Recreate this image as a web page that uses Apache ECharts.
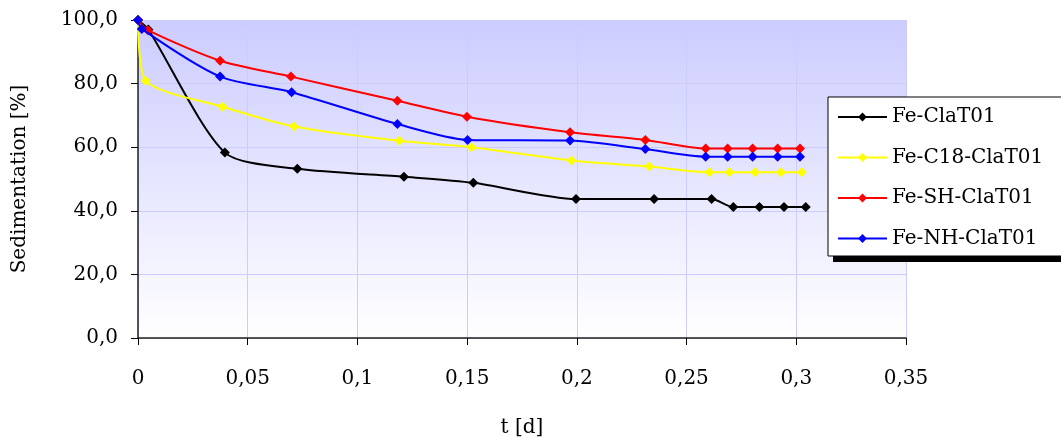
<!DOCTYPE html>
<html>
<head>
<meta charset="utf-8">
<script src="https://cdn.jsdelivr.net/npm/echarts@6/dist/echarts.min.js"></script>
<style>
html,body{margin:0;padding:0;background:#fff;}
#chart{width:1061px;height:437px;}
</style>
</head>
<body>
<div id="chart"></div>
<script>
// ---- data ----
const xTicks = [0, 0.05, 0.1, 0.15, 0.2, 0.25, 0.3, 0.35];
const yTicks = [0, 20, 40, 60, 80, 100];

const names = ['Fe-ClaT01', 'Fe-C18-ClaT01', 'Fe-SH-ClaT01', 'Fe-NH-ClaT01'];

const blackT  = [0, 0.0047, 0.0396, 0.0726, 0.1212, 0.1528, 0.1996, 0.2352, 0.2614, 0.2713, 0.2832, 0.2944, 0.3043];
const blackV  = [100, 97.0, 58.3, 53.2, 50.7, 48.8, 43.7, 43.7, 43.7, 41.2, 41.2, 41.2, 41.2];

const yellowT = [0, 0.0035, 0.0386, 0.0711, 0.1191, 0.1520, 0.1976, 0.2330, 0.2604, 0.2695, 0.2812, 0.2930, 0.3025];
const yellowV = [100, 80.9, 72.7, 66.5, 62.0, 60.0, 55.8, 53.9, 52.1, 52.1, 52.1, 52.1, 52.1];

const redT    = [0, 0.0045, 0.0374, 0.0697, 0.1182, 0.1499, 0.1969, 0.2312, 0.2587, 0.2687, 0.2801, 0.2915, 0.3017];
const redV    = [100, 96.8, 87.2, 82.2, 74.6, 69.6, 64.7, 62.3, 59.6, 59.6, 59.6, 59.6, 59.6];

const blueT   = [0, 0.0017, 0.0374, 0.0700, 0.1182, 0.1502, 0.1969, 0.2312, 0.2587, 0.2687, 0.2801, 0.2915, 0.3017];
const blueV   = [100, 97.2, 82.2, 77.3, 67.3, 62.3, 62.1, 59.4, 57.0, 57.0, 57.0, 57.0, 57.0];

const colors = ['#000000', '#ffff00', '#ff0000', '#0000ff'];

// ---- build ----
function pairs(t, v) { return t.map((x, i) => [x, v[i]]); }
const seriesData = [pairs(blackT, blackV), pairs(yellowT, yellowV), pairs(redT, redV), pairs(blueT, blueV)];

const FONT = 'DejaVu Serif';
const FS = 20;
const chart = echarts.init(document.getElementById('chart'), null, {renderer: 'canvas'});

const option = {
  animation: false,
  textStyle: {fontFamily: FONT},
  grid: {
    left: 138, right: 155, top: 20, bottom: 99,
    outerBoundsMode: 'none',
    containLabel: false,
    show: true,
    borderWidth: 0,
    backgroundColor: new echarts.graphic.LinearGradient(0, 0, 0, 1, [
      {offset: 0, color: '#ccccff'},
      {offset: 1, color: '#ffffff'}
    ])
  },
  xAxis: {
    type: 'value',
    min: xTicks[0], max: xTicks[xTicks.length - 1], interval: 0.05,
    name: 't [d]', nameLocation: 'middle', nameGap: 80,
    nameTextStyle: {fontFamily: FONT, fontSize: FS, color: '#000'},
    axisLine: {show: true, onZero: false, lineStyle: {color: '#222', width: 1.5}},
    axisTick: {show: true, inside: false, length: 7, lineStyle: {color: '#000'}},
    axisLabel: {
      fontFamily: FONT, fontSize: FS, color: '#000', margin: 31,
      formatter: v => String(Math.round(v * 100) / 100).replace('.', ',')
    },
    splitLine: {show: true, lineStyle: {color: '#ccccff', width: 1}}
  },
  yAxis: {
    type: 'value',
    min: yTicks[0], max: yTicks[yTicks.length - 1], interval: 20,
    name: 'Sedimentation [%]', nameLocation: 'middle', nameGap: 108, nameRotate: 90,
    nameTextStyle: {fontFamily: FONT, fontSize: FS, color: '#000'},
    axisLine: {show: true, lineStyle: {color: '#222', width: 1.5}},
    axisTick: {show: true, inside: false, length: 7, lineStyle: {color: '#000'}},
    axisLabel: {
      fontFamily: FONT, fontSize: FS, color: '#000', margin: 20,
      formatter: v => v.toFixed(1).replace('.', ',')
    },
    splitLine: {show: true, lineStyle: {color: '#ccccff', width: 1}}
  },
  legend: {
    orient: 'vertical',
    left: 837, top: 107,
    padding: 0,
    itemWidth: 49, itemHeight: 11, itemGap: 20.5,
    z: 10,
    data: names,
    textStyle: {fontFamily: FONT, fontSize: FS, color: '#000', lineHeight: 20, padding: [0, 0, 0, 0]}
  },
  graphic: [
    {type: 'rect', z: 5, shape: {x: 833, y: 102, width: 260, height: 160}, style: {fill: '#000'}},
    {type: 'rect', z: 6, shape: {x: 828, y: 97, width: 260, height: 159}, style: {fill: '#fff', stroke: '#000', lineWidth: 1}}
  ],
  series: names.map((n, i) => ({
    name: n,
    type: 'line',
    data: seriesData[i],
    smooth: 0.25,
    symbol: 'diamond',
    symbolSize: 10,
    showAllSymbol: true,
    color: colors[i],
    lineStyle: {color: colors[i], width: 2},
    itemStyle: {color: colors[i]},
    z: 2 + i
  }))
};
chart.setOption(option);
</script>
</body>
</html>
